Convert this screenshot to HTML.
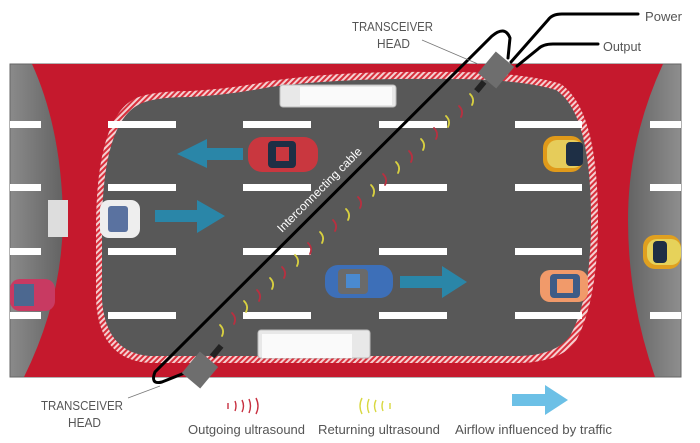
<!DOCTYPE html>
<html><head><meta charset="utf-8"><style>
html,body{margin:0;padding:0;background:#fff;}
svg{display:block}
text{font-family:"Liberation Sans Narrow","Liberation Sans",sans-serif;fill:#555}
</style></head><body>
<svg width="700" height="443" viewBox="0 0 700 443" xmlns="http://www.w3.org/2000/svg">
<defs>
<pattern id="hatch" width="4" height="4" patternUnits="userSpaceOnUse" patternTransform="rotate(45)">
<rect width="4" height="4" fill="#f4d0d2"/><rect width="2" height="4" fill="#d8303c"/>
</pattern>
<linearGradient id="gl" x1="0" x2="1"><stop offset="0" stop-color="#8a8a8a"/><stop offset="1" stop-color="#5e5e5e"/></linearGradient>
<linearGradient id="gr" x1="0" x2="1"><stop offset="0" stop-color="#5e5e5e"/><stop offset="1" stop-color="#8e8e8e"/></linearGradient>
</defs>
<rect x="10" y="64" width="671" height="313" fill="#585858"/>
<rect x="10" y="64" width="60" height="313" fill="url(#gl)"/>
<rect x="621" y="64" width="60" height="313" fill="url(#gr)"/>
<rect x="10" y="64" width="671" height="313" fill="none" stroke="#666" stroke-width="1"/>
<path d="M32,64 L663,64 Q628,140 628,220 Q628,300 655,377 L24,377 Q62,300 63,220 Q62,130 32,64 Z" fill="#c5192d"/>
<path d="M96,230 Q96,120 134,99 Q150,91 190,91 Q230,89 270,81 Q340,71 430,72 Q520,71 561,84 Q598,110 598,220 Q598,300 576,341 Q561,362 520,363 L150,363 Q99,360 96,300 Z" fill="url(#hatch)"/>
<path d="M102,230 Q102,125 138,105 Q152,97 190,97 Q230,95 270,87 Q340,78 430,79 Q518,78 556,90 Q591,113 591,220 Q591,298 570,336 Q556,355 520,356 L150,356 Q106,353 102,300 Z" fill="#585858"/>
<g fill="#fff">
<rect x="10" y="121" width="31" height="7"/><rect x="108" y="121" width="68" height="7"/><rect x="243" y="121" width="68" height="7"/><rect x="379" y="121" width="68" height="7"/><rect x="515" y="121" width="67" height="7"/><rect x="650" y="121" width="31" height="7"/>
<rect x="10" y="184" width="31" height="7"/><rect x="108" y="184" width="68" height="7"/><rect x="243" y="184" width="68" height="7"/><rect x="379" y="184" width="68" height="7"/><rect x="515" y="184" width="67" height="7"/><rect x="650" y="184" width="31" height="7"/>
<rect x="10" y="248" width="31" height="7"/><rect x="108" y="248" width="68" height="7"/><rect x="243" y="248" width="68" height="7"/><rect x="379" y="248" width="68" height="7"/><rect x="515" y="248" width="67" height="7"/><rect x="650" y="248" width="31" height="7"/>
<rect x="10" y="312" width="31" height="7"/><rect x="108" y="312" width="68" height="7"/><rect x="243" y="312" width="68" height="7"/><rect x="379" y="312" width="68" height="7"/><rect x="515" y="312" width="67" height="7"/><rect x="650" y="312" width="31" height="7"/>
</g>
<g>
<rect x="280" y="85" width="116" height="22" rx="3" fill="#e8e8e8" stroke="#bbb"/><rect x="300" y="87" width="92" height="18" fill="#fafafa"/>
<rect x="258" y="330" width="112" height="28" rx="3" fill="#e8e8e8" stroke="#bbb"/><rect x="262" y="334" width="90" height="24" fill="#fafafa"/>
<rect x="48" y="200" width="20" height="37" fill="#ddd"/><rect x="100" y="200" width="40" height="38" rx="9" fill="#eee"/><rect x="108" y="206" width="20" height="26" rx="3" fill="#5a72a0"/>
<rect x="248" y="137" width="70" height="35" rx="14" fill="#c9373f"/><rect x="268" y="141" width="28" height="27" rx="4" fill="#1e2f45"/><rect x="276" y="147" width="13" height="14" fill="#c9373f"/>
<rect x="543" y="136" width="40" height="36" rx="12" fill="#e09a1a"/><rect x="547" y="140" width="36" height="28" rx="10" fill="#e6cc5a"/><rect x="566" y="142" width="17" height="24" rx="4" fill="#1e2f45"/>
<rect x="643" y="235" width="38" height="34" rx="12" fill="#e0a020"/><rect x="647" y="239" width="34" height="26" rx="10" fill="#e6d25a"/><rect x="653" y="241" width="14" height="22" rx="4" fill="#1e2f45"/>
<rect x="10" y="279" width="45" height="32" rx="10" fill="#c83a62"/><rect x="14" y="284" width="20" height="22" fill="#4c6890"/>
<rect x="325" y="265" width="68" height="33" rx="13" fill="#3d6fb8"/><rect x="338" y="269" width="30" height="25" rx="4" fill="#6a6a6a"/><rect x="346" y="274" width="14" height="14" fill="#4a8ad0"/>
<rect x="540" y="270" width="48" height="32" rx="10" fill="#f19a6a"/><rect x="550" y="274" width="30" height="24" rx="4" fill="#3e5c86"/><rect x="557" y="279" width="16" height="14" fill="#f19a6a"/>
</g>
<g fill="#2a86a8">
<path d="M243,148 L243,160 L207,160 L207,168 L177,154 L207,139 L207,148 Z"/>
<path d="M155,210 L155,222 L197,222 L197,233 L225,216 L197,200 L197,210 Z"/>
<path d="M400,276 L400,288 L442,288 L442,298 L467,282 L442,266 L442,276 Z"/>
</g>
<g fill="none" stroke-width="1.8" stroke-linecap="round">
<path d="M470,94 q5,5 2,11" stroke="#d8d040"/><path d="M459,106 q5,5 2,11" stroke="#b83040"/><path d="M446,116 q5,5 2,11" stroke="#d8d040"/><path d="M434,128 q5,5 2,11" stroke="#b83040"/><path d="M421,139 q5,5 2,11" stroke="#d8d040"/><path d="M409,151 q5,5 2,11" stroke="#b83040"/><path d="M396,162 q5,5 2,11" stroke="#d8d040"/><path d="M383,174 q5,5 2,11" stroke="#b83040"/><path d="M371,185 q5,5 2,11" stroke="#d8d040"/><path d="M358,197 q5,5 2,11" stroke="#b83040"/><path d="M346,209 q5,5 2,11" stroke="#d8d040"/><path d="M333,220 q5,5 2,11" stroke="#b83040"/><path d="M320,232 q5,5 2,11" stroke="#d8d040"/><path d="M308,243 q5,5 2,11" stroke="#b83040"/><path d="M295,255 q5,5 2,11" stroke="#d8d040"/><path d="M282,267 q5,5 2,11" stroke="#b83040"/><path d="M270,278 q5,5 2,11" stroke="#d8d040"/><path d="M257,290 q5,5 2,11" stroke="#b83040"/><path d="M244,301 q5,5 2,11" stroke="#d8d040"/><path d="M232,313 q5,5 2,11" stroke="#b83040"/><path d="M220,325 q5,5 2,11" stroke="#d8d040"/>
</g>
<g fill="none" stroke="#000" stroke-width="3" stroke-linecap="round">
<path d="M187,372 L162,382 Q150,385 155,372 L492,36 Q505,25 510,38 L508,58"/>
<path d="M511,62 L548,20 Q552,14 562,14 L638,14"/>
<path d="M517,66 L538,49 Q543,44 553,44 L598,44"/>
</g>
<text x="0" y="0" transform="translate(282,233) rotate(-45)" font-size="12" style="fill:#fff;font-family:'Liberation Sans',sans-serif">Interconnecting cable</text>
<g>
<rect x="-12" y="-14" width="24" height="28" fill="#6e6e6e" transform="translate(496,70) rotate(40)"/>
<rect x="-3" y="-8" width="6" height="12" fill="#222" transform="translate(479,88) rotate(40)"/>
<rect x="-12" y="-14" width="24" height="28" fill="#6e6e6e" transform="translate(200,370) rotate(40)"/>
<rect x="-3" y="-8" width="6" height="14" fill="#222" transform="translate(216,352) rotate(40)"/>
</g>
<line x1="422" y1="40" x2="478" y2="64" stroke="#777" stroke-width="0.8"/>
<line x1="128" y1="398" x2="160" y2="386" stroke="#777" stroke-width="0.8"/>
<text x="352" y="31" font-size="13" textLength="81" lengthAdjust="spacingAndGlyphs">TRANSCEIVER</text>
<text x="377" y="48" font-size="13" textLength="33" lengthAdjust="spacingAndGlyphs">HEAD</text>
<text x="645" y="21" font-size="13" textLength="37" lengthAdjust="spacingAndGlyphs">Power</text>
<text x="603" y="51" font-size="13" textLength="38" lengthAdjust="spacingAndGlyphs">Output</text>
<text x="41" y="410" font-size="13" textLength="82" lengthAdjust="spacingAndGlyphs">TRANSCEIVER</text>
<text x="68" y="427" font-size="13" textLength="33" lengthAdjust="spacingAndGlyphs">HEAD</text>
<text x="188" y="434" font-size="13" textLength="117" lengthAdjust="spacingAndGlyphs">Outgoing ultrasound</text>
<text x="318" y="434" font-size="13" textLength="122" lengthAdjust="spacingAndGlyphs">Returning ultrasound</text>
<text x="455" y="434" font-size="13" textLength="157" lengthAdjust="spacingAndGlyphs">Airflow influenced by traffic</text>
<g fill="none" stroke-width="1.4" stroke="#c83040">
<path d="M228,403 v6"/><path d="M235,401 q2,5 0,10"/><path d="M242,400 q3,6 0,12"/><path d="M249,399 q3,7 0,14"/><path d="M256,398 q4,8 0,16"/>
</g>
<g fill="none" stroke-width="1.4" stroke="#d8d840">
<path d="M362,398 q-4,8 0,16"/><path d="M369,399 q-3,7 0,14"/><path d="M376,400 q-3,6 0,12"/><path d="M383,401 q-2,5 0,10"/><path d="M390,403 v6"/>
</g>
<path d="M512,394 L545,394 L545,385 L568,400 L545,415 L545,406 L512,406 Z" fill="#6cc0e6"/>
</svg>
</body></html>
